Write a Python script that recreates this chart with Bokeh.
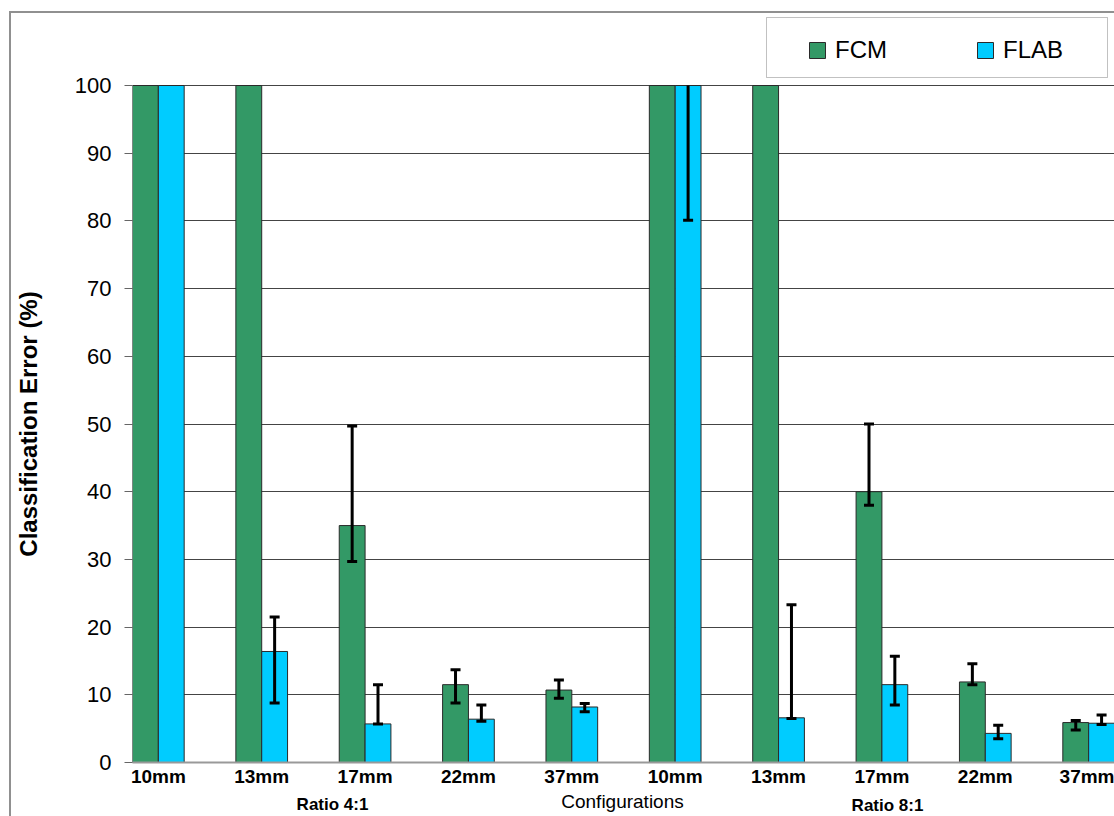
import math
from bokeh.plotting import figure
from bokeh.layouts import column
from bokeh.models import (ColumnDataSource, Range1d, FixedTicker, Legend, LegendItem,
                          Whisker, TeeHead, Label, BoxAnnotation, LinearAxis)
from bokeh.transform import dodge
from bokeh.embed import file_html
from bokeh.resources import INLINE

# ---------------- data ----------------
sizes = ["10mm", "13mm", "17mm", "22mm", "37mm", "10mm", "13mm", "17mm", "22mm", "37mm"]
group_labels = ["Ratio 4:1", "Ratio 8:1"]
x_title = "Configurations"
y_title = "Classification Error (%)"
series = ["FCM", "FLAB"]
y_ticks = [0, 10, 20, 30, 40, 50, 60, 70, 80, 90, 100]

fcm = [100, 100, 35.0, 11.5, 10.7, 100, 100, 40.0, 11.9, 5.9]
flab = [100, 16.4, 5.7, 6.4, 8.2, 100, 6.6, 11.5, 4.3, 5.8]

nan = float("nan")
fcm_lo = [nan, nan, 29.7, 8.8, 9.5, nan, nan, 38.0, 11.5, 4.8]
fcm_hi = [nan, nan, 49.7, 13.7, 12.2, nan, nan, 50.0, 14.6, 6.2]
flab_lo = [nan, 8.8, 5.7, 6.1, 7.5, 80.1, 6.5, 8.5, 3.5, 5.6]
flab_hi = [nan, 21.5, 11.5, 8.5, 8.7, 100, 23.3, 15.7, 5.5, 7.0]

FONT = "Liberation Sans"
GREEN = "#339966"
CYAN = "#00CCFF"
EDGE = "#2a2a2a"

idx = list(range(len(sizes)))
Y_MAX = 100

# page geometry (content origin after the CSS outer border)
OX, OY = 11, 13
PAGE_W, PAGE_H = 1114, 816
FRAME_L, PLOT_T, FRAME_B = 132, 85, 762     # plot area: 0..100 spans PLOT_T..FRAME_B
BOTTOM_T = 792
CW = PAGE_W - OX
X0, X1 = -0.25, len(sizes) - 0.75
# frame extends up to OY so the legend can sit inside it
Y_TOP = Y_MAX * (FRAME_B - OY) / (FRAME_B - PLOT_T)


def xd(px):  # page x -> data x
    return X0 + (px - FRAME_L) * (X1 - X0) / (PAGE_W - FRAME_L)


def yd(py):  # page y -> data y
    return (FRAME_B - py) * Y_MAX / (FRAME_B - PLOT_T)


common_fig = dict(output_backend="svg", toolbar_location=None)

# ---------------- main chart ----------------
p = figure(width=CW, height=BOTTOM_T - OY,
           x_range=Range1d(X0, X1), y_range=Range1d(0, Y_TOP),
           min_border_left=FRAME_L - OX, min_border_right=0, min_border_top=0,
           min_border_bottom=BOTTOM_T - FRAME_B, **common_fig)
p.outline_line_color = None

p.xaxis.ticker = FixedTicker(ticks=idx)
p.xaxis.major_label_overrides = {i: s for i, s in enumerate(sizes)}
p.xaxis.major_tick_line_color = None
p.xaxis.major_tick_out = 0
p.xaxis.major_tick_in = 0
p.xaxis.minor_tick_line_color = None
p.xaxis.axis_line_color = "#999999"
p.xaxis.axis_line_width = 2
p.xaxis.major_label_text_font = FONT
p.xaxis.major_label_text_font_style = "bold"
p.xaxis.major_label_text_font_size = "19px"
p.xaxis.major_label_text_color = "black"
p.xaxis.major_label_standoff = 3

p.yaxis.ticker = FixedTicker(ticks=y_ticks)
p.yaxis.axis_line_color = None
p.yaxis.minor_tick_line_color = None
p.yaxis.major_tick_in = 0
p.yaxis.major_tick_out = 8
p.yaxis.major_tick_line_color = "#666666"
p.yaxis.major_label_text_font = FONT
p.yaxis.major_label_text_font_size = "22px"
p.yaxis.major_label_text_color = "black"
p.yaxis.major_label_standoff = 13

# y title: an outer left axis with one label centred on the 0..100 plot area
title_axis = LinearAxis(ticker=FixedTicker(ticks=[50]), major_label_overrides={50: y_title},
                        axis_line_color=None, major_tick_line_color=None,
                        minor_tick_line_color=None, major_tick_in=0, major_tick_out=0,
                        major_label_orientation="vertical", major_label_standoff=30,
                        major_label_text_font=FONT, major_label_text_font_style="bold",
                        major_label_text_font_size="24px", major_label_text_color="black")
p.add_layout(title_axis, "left")

p.xgrid.grid_line_color = None
p.ygrid.grid_line_color = "#444444"
p.ygrid.grid_line_width = 1
p.ygrid.ticker = FixedTicker(ticks=y_ticks)

src = ColumnDataSource(dict(x=idx, fcm=fcm, flab=flab))
r1 = p.vbar(x=dodge("x", -0.125, range=p.x_range), top="fcm", width=0.25, source=src,
            fill_color=GREEN, line_color=EDGE, line_width=1)
r2 = p.vbar(x=dodge("x", 0.125, range=p.x_range), top="flab", width=0.25, source=src,
            fill_color=CYAN, line_color=EDGE, line_width=1)


def add_whiskers(lo, hi, offset):
    normal = dict(x=[], lo=[], hi=[])
    clipped = dict(x=[], lo=[], hi=[])
    for i, (a, b) in enumerate(zip(lo, hi)):
        if math.isnan(a) or math.isnan(b):
            continue
        d = clipped if b >= Y_MAX else normal
        d["x"].append(i + offset)
        d["lo"].append(a)
        d["hi"].append(b)
    for d, top_head in ((normal, True), (clipped, False)):
        if not d["x"]:
            continue
        w = Whisker(source=ColumnDataSource(d), base="x", lower="lo", upper="hi",
                    line_width=3, line_color="black", level="overlay")
        w.lower_head = TeeHead(size=10, line_width=3, line_color="black")
        w.upper_head = TeeHead(size=10, line_width=3, line_color="black") if top_head else None
        p.add_layout(w)


add_whiskers(fcm_lo, fcm_hi, -0.125)
add_whiskers(flab_lo, flab_hi, 0.125)

# legend with its box, above the plot area
p.add_layout(BoxAnnotation(left=xd(766), right=xd(1107), top=yd(17), bottom=yd(77),
                           fill_color="white", fill_alpha=1, line_color="#333333",
                           line_width=1, level="overlay"))
legend = Legend(items=[LegendItem(label=series[0], renderers=[r1]),
                       LegendItem(label=series[1], renderers=[r2])],
                orientation="horizontal", location=(807 - FRAME_L, FRAME_B - 64),
                padding=0, margin=0, spacing=88, label_standoff=8,
                glyph_width=20, glyph_height=20,
                label_text_font=FONT, label_text_font_size="24px", label_text_color="black",
                border_line_color=None, background_fill_alpha=0)
p.add_layout(legend)

# ---------------- bottom strip: group / axis titles ----------------
bottom = figure(width=CW, height=PAGE_H - BOTTOM_T, x_range=p.x_range,
                y_range=Range1d(0, PAGE_H - BOTTOM_T),
                min_border_left=FRAME_L - OX, min_border_right=0,
                min_border_top=0, min_border_bottom=0, **common_fig)
bottom.axis.visible = False
bottom.grid.visible = False
bottom.outline_line_color = None
lab = dict(text_font=FONT, text_color="black", text_align="center", text_baseline="middle")
bottom.add_layout(Label(x=xd(332), y=PAGE_H - 804, text=group_labels[0],
                        text_font_size="17px", text_font_style="bold", **lab))
bottom.add_layout(Label(x=xd(887), y=PAGE_H - 805, text=group_labels[1],
                        text_font_size="17px", text_font_style="bold", **lab))
bottom.add_layout(Label(x=xd(622), y=PAGE_H - 801, text=x_title,
                        text_font_size="19px", **lab))

layout = column(p, bottom, spacing=0,
                styles={"margin-left": "9px", "margin-top": "11px",
                        "border-left": "2px solid #909090",
                        "border-top": "2px solid #909090"})

open("out.html", "w").write(file_html(layout, INLINE))
